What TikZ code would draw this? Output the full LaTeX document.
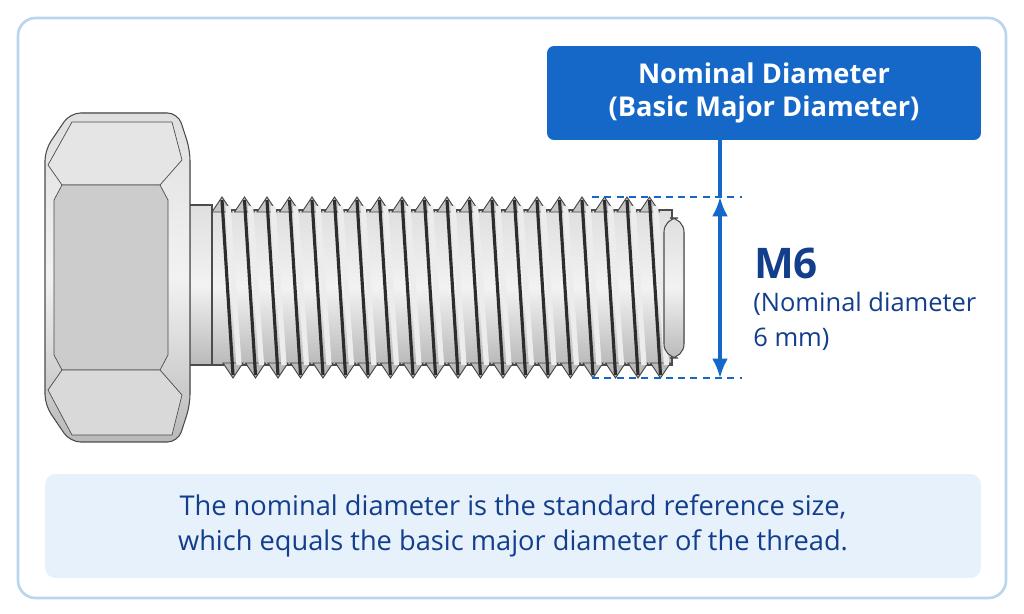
\documentclass[tikz,border=0pt]{standalone}
\usepackage{fontspec}
\setmainfont{Open Sans}
\usetikzlibrary{arrows.meta}
\begin{document}
\begin{tikzpicture}[x=0.02cm,y=-0.02cm,
  blue1/.style={draw=none,fill=bluemain},
  dim/.style={draw=bluemain,line width=1.8pt},
  dimdash/.style={draw=bluemain,line width=0.9pt,dash pattern=on 4pt off 3pt},
  metal/.style={draw=gray!60!black,line width=0.6pt,top color=gray!25,bottom color=gray!55,middle color=gray!10}]
\definecolor{bluemain}{HTML}{1668C8}
\definecolor{darkblue}{HTML}{123E8C}
\definecolor{lightbg}{HTML}{E7F1FB}
\definecolor{frame}{HTML}{B9D5EF}
\useasboundingbox (0,0) rectangle (1024,614);
\fill[white] (0,0) rectangle (1024,614);
\draw[frame,line width=1.5pt,rounded corners=10pt] (18,18) rectangle (1006,598);
% title box
\node[blue1,rounded corners=4pt,minimum width=8.68cm,minimum height=1.88cm,text=white,font=\bfseries\fontsize{15.5}{19}\selectfont,align=center] (title) at (764,93) {Nominal Diameter\\(Basic Major Diameter)};
% bolt shank
\fill[metal] (205,210) rectangle (672,365);
\foreach \k in {0,...,19}{
  \pgfmathsetmacro{\xx}{212+22.5*\k}
  \fill[gray!45,draw=gray!50!black,line width=0.5pt] (\xx,212)--(\xx+10,197)--(\xx+20,212)--cycle;
  \fill[gray!55,draw=gray!50!black,line width=0.5pt] (\xx+11,363)--(\xx+21,378)--(\xx+31,363)--cycle;
  \draw[gray!35!black,line width=1.8pt] (\xx+10,200)--(\xx+21,375);
  \draw[white!85!gray,line width=3pt] (\xx+16,206)--(\xx+27,365);
}
\fill[metal,rounded corners=8pt] (664,218) rectangle (684,358);
% washer face
\fill[metal] (168,205) rectangle (212,365);
% head
\fill[metal,rounded corners=6pt] (45,150)--(70,113)--(178,113)--(190,150)--(190,405)--(178,442)--(70,442)--(45,405)--cycle;
\fill[gray!20,draw=gray!60!black] (48,165)--(62,185)--(160,185)--(182,160)--(172,122)--(72,122)--cycle;
\fill[gray!40,draw=gray!60!black] (62,185)--(160,185)--(168,200)--(168,355)--(160,370)--(62,370)--(54,355)--(54,200)--cycle;
\fill[gray!30,draw=gray!60!black] (48,390)--(62,370)--(160,370)--(182,395)--(172,435)--(72,435)--cycle;
% dimension
\coordinate (t) at (720,197);
\coordinate (b) at (720,378);
\draw[dim] (title.south -| t) -- (t);
\draw[dim,-{Latex[length=11pt,width=9pt]}] (720,288) -- (t);
\draw[dim,-{Latex[length=11pt,width=9pt]}] (720,288) -- (b);
\coordinate (d1) at (592,197); \coordinate (d2) at (742,197);
\coordinate (d3) at (592,378); \coordinate (d4) at (742,378);
\draw[dimdash] (d1)--(d2);
\draw[dimdash] (d3)--(d4);
\node[anchor=west,font=\bfseries\fontsize{24}{28}\selectfont,text=darkblue] (m6) at (748,263) {M6};
\node[anchor=north west,font=\fontsize{14.5}{20}\selectfont,text=darkblue,align=left,inner sep=0pt] (nd) at (753,292) {(Nominal diameter\\6 mm)};
% bottom box
\node[fill=lightbg,rounded corners=6pt,minimum width=18.72cm,minimum height=2.08cm,text=darkblue,font=\fontsize{15.5}{20}\selectfont,align=center] (note) at (513,526) {The nominal diameter is the standard reference size,\\which equals the basic major diameter of the thread.};
\end{tikzpicture}
\end{document}
